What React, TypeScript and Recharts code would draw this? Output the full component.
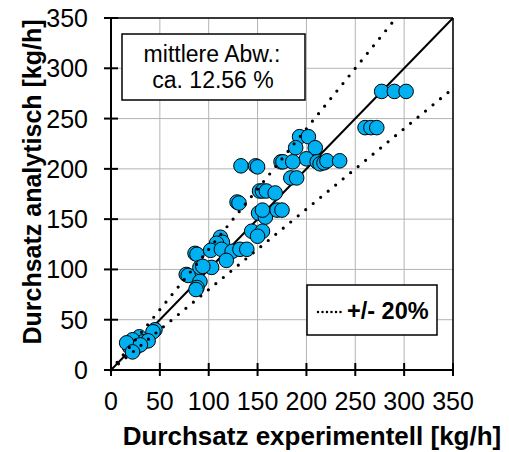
import React from 'react';
import { ScatterChart, Scatter, XAxis, YAxis, CartesianGrid, ReferenceLine } from 'recharts';

const expX = [277, 290, 302, 260, 266, 272, 193, 202, 189, 209, 200, 174, 176, 186, 211, 214, 218, 221, 234, 133, 148, 150, 184, 190, 152, 155, 159, 168, 129, 131, 151, 158, 155, 170, 175, 144, 155, 150, 112, 114, 108, 86, 88, 102, 113, 124, 132, 139, 118, 91, 103, 94, 77, 79, 91, 88, 87, 45, 43, 29, 33, 38, 22, 19, 25, 16, 30, 22];
const anaY = [277, 277, 277, 241, 241, 241, 232, 232, 221, 221, 210, 207, 207, 207, 207, 205, 206, 208, 208, 203, 203, 202, 191, 191, 178, 178, 178, 176, 167, 166, 156, 152, 159, 159, 159, 138, 138, 133, 132, 127, 126, 116, 115, 119, 120, 118, 120, 120, 109, 102, 102, 103, 95, 94, 88, 82, 80, 40, 38, 33, 28, 29, 30, 23, 22, 27, 25, 18];
const axisTicks = [0, 50, 100, 150, 200, 250, 300, 350];
const diagonal = [{ x: 0, y: 0 }, { x: 350, y: 350 }];
const upperBand = [{ x: 0, y: 0 }, { x: 350 / 1.2, y: 350 }];
const lowerBand = [{ x: 0, y: 0 }, { x: 350, y: 280 }];

const points = expX.map((x, i) => ({ x, y: anaY[i] }));

const FONT = '"Liberation Sans", Arial, sans-serif';
const XTM = 22;
const YTM = 23;

const XTick = (props: any) => {
  const { x, y, payload } = props;
  const ay = y - XTM;
  return (
    <g>
      <line x1={x} x2={x} y1={ay - 7} y2={ay + 6} stroke="#000" strokeWidth={2} />
      <text x={x} y={y} dy="0.71em" textAnchor="middle" fontFamily={FONT} fontSize={25} fill="#000">{payload.value}</text>
    </g>
  );
};

const YTick = (props: any) => {
  const { x, y, payload } = props;
  const ax = x + YTM;
  return (
    <g>
      <line x1={ax - 7} x2={ax + 7} y1={y} y2={y} stroke="#000" strokeWidth={2} />
      <text x={x} y={y} dy="0.36em" textAnchor="end" fontFamily={FONT} fontSize={25} fill="#000">{payload.value}</text>
    </g>
  );
};

const Marker = (props: any) => (
  <circle cx={props.cx} cy={props.cy} r={7.3} fill="#00B0F0" stroke="#000" strokeWidth={1} />
);
const NoMarker = () => <g />;

export default function App() {
  return (
    <div style={{ position: 'absolute', left: 0, top: 0, width: 509, height: 452, background: '#fff' }}>
      <ScatterChart width={509} height={452} margin={{ top: 18, right: 56, bottom: 42, left: 51 }}>
        <CartesianGrid stroke="#B4B4B4" strokeWidth={1} />
        <XAxis type="number" dataKey="x" domain={[0, 350]} ticks={axisTicks} height={40}
          tickSize={0} tickMargin={XTM} tickLine={false} axisLine={{ stroke: '#000', strokeWidth: 2 }} tick={<XTick />} />
        <YAxis type="number" dataKey="y" domain={[0, 350]} ticks={axisTicks} width={60}
          tickSize={0} tickMargin={YTM} tickLine={false} axisLine={{ stroke: '#000', strokeWidth: 2 }} tick={<YTick />} />
        <ReferenceLine y={350} stroke="#000" strokeWidth={1.5} />
        <ReferenceLine x={350} stroke="#000" strokeWidth={1.5} />
        <Scatter data={diagonal} line={{ stroke: '#000', strokeWidth: 2 }} lineType="joint" shape={<NoMarker />} isAnimationActive={false} />
        <Scatter data={points} shape={<Marker />} isAnimationActive={false} />
        <Scatter data={upperBand} line={{ stroke: '#000', strokeWidth: 3.2, strokeDasharray: '0 9.7', strokeLinecap: 'round' }} lineType="joint" shape={<NoMarker />} isAnimationActive={false} />
        <Scatter data={lowerBand} line={{ stroke: '#000', strokeWidth: 3.2, strokeDasharray: '0 9.7', strokeLinecap: 'round' }} lineType="joint" shape={<NoMarker />} isAnimationActive={false} />
      </ScatterChart>
      <svg width={509} height={452} style={{ position: 'absolute', left: 0, top: 0, pointerEvents: 'none' }}>
        <rect x={122} y={34} width={183} height={66} fill="#fff" stroke="#000" strokeWidth={1.5} />
        <text x={212} y={62} textAnchor="middle" fontFamily={FONT} fontSize={23} fill="#000">mittlere Abw.:</text>
        <text x={213} y={88} textAnchor="middle" fontFamily={FONT} fontSize={23} fill="#000">ca. 12.56 %</text>
        <rect x={307} y={285} width={130} height={50} fill="#fff" stroke="#000" strokeWidth={1.5} />
        <line x1={318} x2={345} y1={312} y2={312} stroke="#000" strokeWidth={2.5} strokeDasharray="0 4.5" strokeLinecap="round" />
        <text x={347} y={319} fontFamily={FONT} fontSize={23.5} fontWeight="bold" fill="#000">+/- 20%</text>
        <text x={312} y={445} textAnchor="middle" fontFamily={FONT} fontSize={26} fontWeight="bold" fill="#000">Durchsatz experimentell [kg/h]</text>
        <text transform="translate(41,182) rotate(-90)" textAnchor="middle" fontFamily={FONT} fontSize={25} fontWeight="bold" fill="#000">Durchsatz analytisch [kg/h]</text>
      </svg>
    </div>
  );
}
